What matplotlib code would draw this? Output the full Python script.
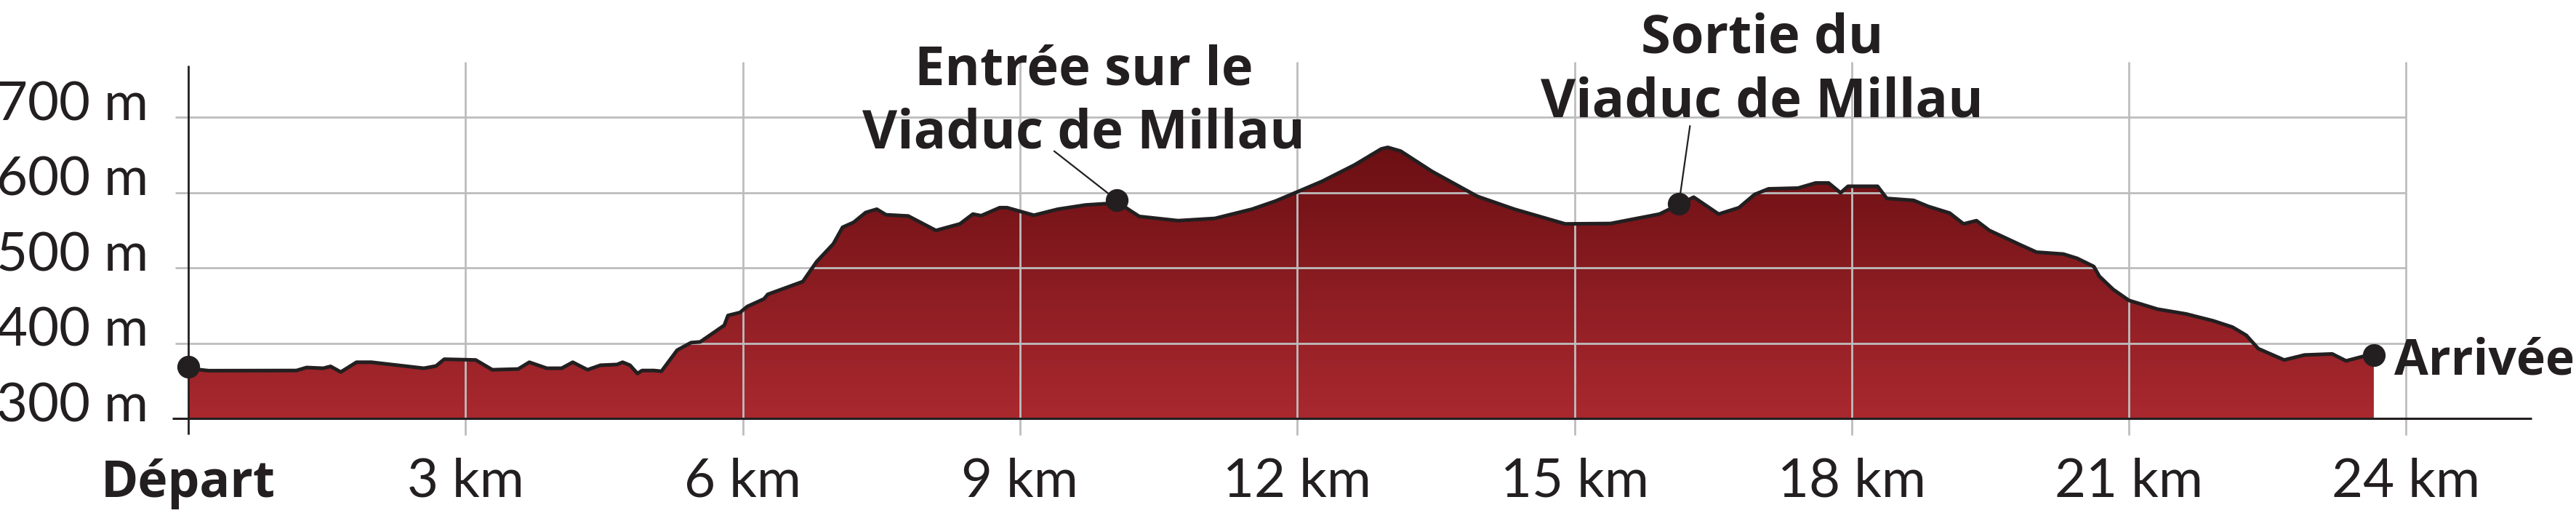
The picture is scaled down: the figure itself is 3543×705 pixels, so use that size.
import matplotlib
matplotlib.use("Agg")
import matplotlib.pyplot as plt
import numpy as np
from matplotlib.colors import LinearSegmentedColormap
from matplotlib.patches import Polygon

plt.rcParams['font.family'] = ['Lato', 'DejaVu Sans']
BOLD_FONT = ['Open Sans', 'DejaVu Sans']

# ------------------------------------------------------------------ data
dist_km = [0.00, 0.13, 0.22, 1.17, 1.28, 1.46, 1.54, 1.65, 1.82, 1.98,
           2.55, 2.68, 2.77, 3.11, 3.29, 3.57, 3.69, 3.88, 4.04, 4.16,
           4.32, 4.46, 4.64, 4.70, 4.78, 4.86, 4.91, 5.04, 5.12, 5.29,
           5.44, 5.54, 5.80, 5.84, 5.97, 6.05, 6.23, 6.27, 6.65, 6.80,
           6.98, 7.08, 7.20, 7.33, 7.45, 7.55, 7.79, 8.09, 8.35, 8.49,
           8.58, 8.78, 8.86, 9.15, 9.41, 9.71, 9.99, 10.05, 10.17, 10.29,
           10.71, 11.11, 11.51, 11.77, 12.27, 12.62, 12.91, 12.98, 13.12, 13.46,
           13.95, 14.35, 14.90, 15.39, 15.92, 16.13, 16.29, 16.56, 16.78, 16.95,
           17.10, 17.42, 17.61, 17.75, 17.88, 17.96, 18.28, 18.38, 18.67, 18.83,
           19.06, 19.21, 19.35, 19.49, 19.83, 20.00, 20.29, 20.44, 20.62, 20.68,
           20.83, 21.00, 21.31, 21.62, 21.91, 22.12, 22.27, 22.40, 22.68, 22.90,
           23.20, 23.35, 23.53, 23.65]
elev_m = [368.6, 365, 363.8, 364, 368, 367, 369.5, 362, 375, 375,
          367, 370, 379, 378, 365, 366, 375, 367, 367, 375,
          365, 371, 372, 375, 371, 360, 364, 364, 363, 391,
          401, 402, 424, 437, 441, 449, 459, 465, 482, 508.5,
          532, 554, 560.6, 573.6, 578, 570.6, 569, 549.8, 558.5, 571.5,
          569.4, 580, 580, 570, 578, 583.6, 585.8, 588, 578, 568.4,
          562.8, 565.8, 578, 589, 615, 636.7, 658, 660, 655, 628,
          595, 578, 558.5, 559, 571.5, 584, 594, 571.5, 580, 597.6,
          605, 606, 612.8, 612.8, 599.7, 608.4, 608.4, 592.3, 589.7, 581.6,
          572.9, 558.5, 562.8, 549.8, 530.4, 521, 518.5, 512.8, 502, 489,
          471.5, 457, 445.4, 439, 430, 421.6, 410.7, 393, 378, 384.6,
          386, 376.8, 382.6, 384.6]

y_ticks = [300, 400, 500, 600, 700]
y_labels = ["300 m", "400 m", "500 m", "600 m", "700 m"]
x_ticks = [0, 3, 6, 9, 12, 15, 18, 21, 24]
x_labels = ["Départ", "3 km", "6 km", "9 km", "12 km", "15 km", "18 km", "21 km", "24 km"]

# points marked with a dot: départ, entrée viaduc, sortie viaduc, arrivée
mark_km = [0.00, 10.05, 16.13, 23.65]
mark_m = [368.6, 589.8, 585.3, 384.6]

INK = "#231f20"
GRID = "#bdbdbd"

# ------------------------------------------------------------------ figure
fig = plt.figure(figsize=(35.43, 7.05), dpi=100)
ax = fig.add_axes([0, 0, 1, 1])
ax.set_xlim(-259 / 127.1, (3543 - 259) / 127.1)
ax.set_ylim(175.0, 855.5)
ax.axis("off")

# gradient-filled profile
x = np.asarray(dist_km); y = np.asarray(elev_m)
poly = Polygon(np.column_stack([np.r_[x, x[-1], x[0]], np.r_[y, 300, 300]]),
               closed=True, facecolor="none", edgecolor="none")
ax.add_patch(poly)
cmap = LinearSegmentedColormap.from_list("prof", ["#a9292f", "#6a0f13"])
grad = np.linspace(0, 1, 256).reshape(-1, 1)
im = ax.imshow(grad, cmap=cmap, origin="lower", aspect="auto",
               extent=[x[0], x[-1], 300, 665], zorder=1, interpolation="bicubic")
im.set_clip_path(poly)

# grid
ax.vlines(x_ticks[1:], 278.3, 773.5, colors=GRID, lw=2.0, zorder=2)
ax.hlines(y_ticks[1:], -0.144, 24, colors=GRID, lw=2.0, zorder=2)
# axis lines
ax.hlines(300, -0.175, 25.36, colors=INK, lw=2.2, zorder=3)
ax.vlines(0, 279.5, 768.6, colors=INK, lw=2.0, zorder=3)

# profile outline and dots
ax.plot(x, y, color=INK, lw=3.6, solid_joinstyle="round", zorder=4)
ax.plot(mark_km, mark_m, "o", ms=21.5, color=INK, zorder=6)

# tick labels
for v, lab in zip(y_ticks, y_labels):
    ax.text(-0.433, v - 3.9, lab, ha="right", va="baseline", fontsize=53.5, color=INK)
for k, lab in zip(x_ticks, x_labels):
    if k == 0:
        ax.text(k, 196.7, lab, ha="center", va="baseline", fontsize=50, color=INK,
                fontweight="bold", family=BOLD_FONT)
    else:
        ax.text(k, 196.7, lab, ha="center", va="baseline", fontsize=53.5, color=INK)

# annotations
ax.annotate("", xy=(mark_km[1], mark_m[1]), xytext=(9.37, 655.0),
            arrowprops=dict(arrowstyle="-", color=INK, lw=1.6, shrinkA=0, shrinkB=0), zorder=5)
ax.annotate("", xy=(mark_km[2], mark_m[2]), xytext=(16.25, 688.5),
            arrowprops=dict(arrowstyle="-", color=INK, lw=1.6, shrinkA=0, shrinkB=0), zorder=5)

bold = dict(ha="center", va="baseline", fontsize=53.3, fontweight="bold", color=INK,
            family=BOLD_FONT, zorder=7)
ax.text(9.69, 742.9, "Entrée sur le", **bold)
ax.text(9.69, 659.5, "Viaduc de Millau", **bold)
ax.text(17.03, 786.0, "Sortie du", **bold)
ax.text(17.03, 701.0, "Viaduc de Millau", **bold)
ax.text(23.87, 358.4, "Arrivée", ha="left", va="baseline", fontsize=49,
        fontweight="bold", color=INK, family=BOLD_FONT, zorder=7)

fig.savefig("out.png", dpi=100)
